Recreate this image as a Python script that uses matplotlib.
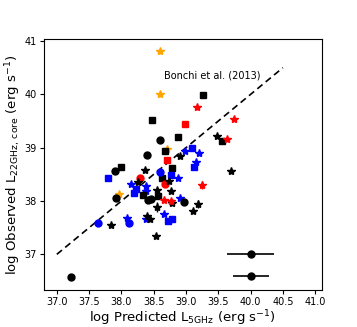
import matplotlib
matplotlib.use('Agg')
import matplotlib.pyplot as plt

# black
bsq_x = [39.26, 38.47, 38.87, 39.55, 38.67, 38.00, 38.79, 38.63, 38.33, 38.57]
bsq_y = [39.99, 39.51, 39.20, 39.13, 38.94, 38.63, 38.62, 38.44, 38.12, 38.09]
bci_x = [38.59, 38.40, 37.90, 37.92, 38.41, 38.46, 38.97, 37.22]
bci_y = [39.14, 38.86, 38.57, 38.06, 38.02, 38.03, 37.99, 36.57]
bst_x = [39.48, 38.90, 38.36, 38.73, 38.25, 38.55, 38.77, 39.70, 38.79, 38.55, 39.18, 39.11, 38.40, 38.44, 37.84, 38.53]
bst_y = [39.22, 38.85, 38.59, 38.37, 38.35, 38.21, 38.18, 38.57, 37.96, 37.89, 37.94, 37.82, 37.72, 37.67, 37.55, 37.35]
bst_err = [0, 0, 0, 0, 0, 0, 0, 0, 0, 0.1, 0.08, 0, 0, 0, 0, 0]

# red
rsq_x = [38.99, 38.71]
rsq_y = [39.45, 38.77]
rst_x = [39.17, 39.74, 39.63, 39.24, 38.66, 38.76]
rst_y = [39.77, 39.53, 39.16, 38.30, 38.01, 38.00]
rst_err = [0, 0, 0, 0.08, 0, 0]
rci_x = [38.29, 38.68]
rci_y = [38.44, 38.32]

# blue
usq_x = [39.10, 39.12, 37.79, 38.76, 38.23, 38.20, 38.78, 38.72]
usq_y = [39.00, 38.63, 38.44, 38.48, 38.23, 38.15, 37.67, 37.63]
ust_x = [39.20, 38.98, 39.15, 38.87, 38.15, 38.38, 38.38, 38.91, 38.66, 38.38, 38.09]
ust_y = [38.90, 38.94, 38.74, 38.44, 38.32, 38.29, 38.19, 38.05, 37.75, 37.66, 37.69]
uci_x = [38.59, 38.11, 37.63]
uci_y = [38.55, 37.59, 37.59]

# orange
ost_x = [38.60, 38.60, 38.70, 37.97]
ost_y = [40.82, 40.01, 38.97, 38.14]

# typical errors
err_x = [40.0, 40.0]
err_y = [37.0, 36.6]
err_xe = [0.36, 0.28]

fig = plt.figure(figsize=(3.57, 3.27), dpi=100)
ax = fig.add_axes([0.123, 0.113, 0.778, 0.768])

ax.plot([37.0, 40.5], [37.0, 40.5], 'k--', lw=1.2, dashes=(4, 2.5))

ax.errorbar(bst_x, bst_y, yerr=bst_err, fmt='*', color='black', ms=6, elinewidth=1, capsize=0)
ax.errorbar(rst_x, rst_y, yerr=rst_err, fmt='*', color='red', ms=6, elinewidth=1, capsize=0)
ax.plot(ust_x, ust_y, '*', color='blue', ms=6)
ax.plot(ost_x, ost_y, '*', color='orange', ms=6)
ax.plot(bsq_x, bsq_y, 's', color='black', ms=5)
ax.plot(rsq_x, rsq_y, 's', color='red', ms=5)
ax.plot(usq_x, usq_y, 's', color='blue', ms=5)
ax.plot(bci_x, bci_y, 'o', color='black', ms=5)
ax.plot(rci_x, rci_y, 'o', color='red', ms=5)
ax.plot(uci_x, uci_y, 'o', color='blue', ms=5)

ax.errorbar(err_x, err_y, xerr=err_xe, fmt='o', color='black', ms=5, elinewidth=1.2, capsize=0)

ax.text(39.41, 40.36, 'Bonchi et al. (2013)', fontsize=7, ha='center', va='center')

ax.set_xlim(36.8, 41.1)
ax.set_ylim(36.33, 41.04)
ax.set_xticks([37.0, 37.5, 38.0, 38.5, 39.0, 39.5, 40.0, 40.5, 41.0])
ax.set_yticks([37, 38, 39, 40, 41])
ax.tick_params(labelsize=7, length=3, pad=2)
ax.set_xlabel(r'log Predicted L$_{\rm 5GHz}$ (erg s$^{-1}$)', fontsize=9.5, labelpad=1)
ax.set_ylabel(r'log Observed L$_{\rm 22GHz,\, core}$ (erg s$^{-1}$)', fontsize=9.5, labelpad=1)

fig.savefig('out.png', dpi=100)
